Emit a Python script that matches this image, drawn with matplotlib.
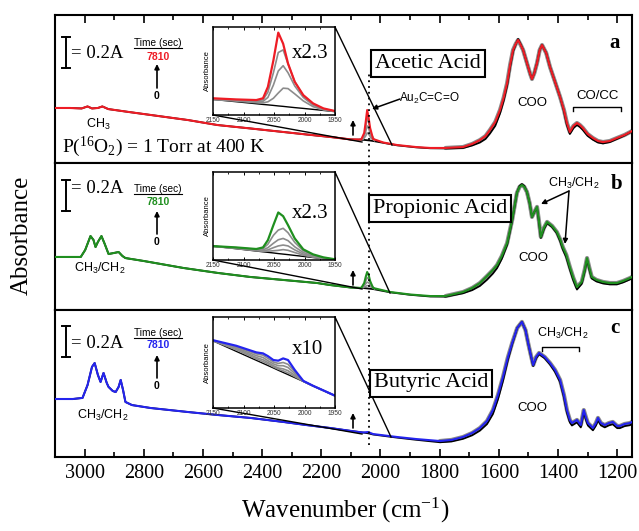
import numpy as np
import matplotlib
matplotlib.use('Agg')
import matplotlib.pyplot as plt
from matplotlib.lines import Line2D
from matplotlib.patches import FancyArrowPatch
from matplotlib.ticker import MultipleLocator

SERIF = 'Liberation Serif'
SANS = 'Liberation Sans'

# ---------------- data (absorbance) ----------------
w_a = [3100, 3050, 3010, 2990, 2975, 2955, 2940, 2920, 2850, 2777, 2650, 2551, 2440, 2328, 2250, 2170, 2100, 2065, 2055, 2050,
       2045, 2040, 2035, 2025, 1990, 1944, 1880, 1832, 1780, 1721, 1690, 1664, 1645, 1630, 1612, 1596, 1584, 1572, 1562, 1552,
       1543, 1535, 1526, 1518, 1510, 1501, 1494, 1488, 1480, 1471, 1462, 1454, 1440, 1427, 1410, 1393, 1380, 1370, 1360, 1348,
       1336, 1326, 1316, 1300, 1282, 1265, 1248, 1225, 1201, 1175, 1150]
acetic_final = [0.355, 0.355, 0.352, 0.365, 0.352, 0.355, 0.365, 0.348, 0.329, 0.310, 0.277, 0.245, 0.223, 0.200, 0.184, 0.168, 0.152, 0.152, 0.194, 0.265,
                0.342, 0.290, 0.226, 0.155, 0.132, 0.116, 0.103, 0.097, 0.097, 0.103, 0.123, 0.148, 0.174, 0.213, 0.265, 0.342, 0.419, 0.516, 0.632, 0.729,
                0.768, 0.794, 0.761, 0.729, 0.677, 0.619, 0.574, 0.542, 0.581, 0.645, 0.729, 0.761, 0.710, 0.619, 0.523, 0.426, 0.342, 0.258, 0.200, 0.239,
                0.258, 0.245, 0.226, 0.187, 0.161, 0.142, 0.135, 0.142, 0.161, 0.181, 0.206]
acetic_initial = [0.355, 0.355, 0.352, 0.365, 0.352, 0.355, 0.365, 0.348, 0.329, 0.310, 0.277, 0.245, 0.223, 0.200, 0.184, 0.168, 0.152, 0.150, 0.149, 0.148,
                  0.147, 0.146, 0.145, 0.142, 0.130, 0.114, 0.101, 0.095, 0.094, 0.097, 0.113, 0.132, 0.155, 0.190, 0.240, 0.320, 0.400, 0.500, 0.620, 0.720,
                  0.765, 0.800, 0.765, 0.729, 0.677, 0.619, 0.574, 0.542, 0.581, 0.645, 0.729, 0.761, 0.710, 0.619, 0.523, 0.426, 0.335, 0.245, 0.187, 0.225,
                  0.245, 0.232, 0.213, 0.175, 0.150, 0.132, 0.126, 0.135, 0.155, 0.178, 0.205]

w_b = [3100, 3040, 3013, 2998, 2980, 2970, 2963, 2955, 2943, 2932, 2919, 2900, 2885, 2872, 2862, 2800, 2666, 2550, 2440, 2330,
       2214, 2170, 2100, 2065, 2055, 2050, 2045, 2040, 2035, 2025, 1967, 1900, 1832, 1780, 1721, 1690, 1664, 1640, 1620, 1606,
       1590, 1572, 1555, 1539, 1530, 1522, 1514, 1505, 1496, 1488, 1480, 1471, 1465, 1458, 1448, 1437, 1420, 1404, 1392, 1384,
       1372, 1360, 1348, 1336, 1320, 1310, 1302, 1294, 1286, 1270, 1248, 1225, 1201, 1180, 1157, 1150]
propionic_final = [0.342, 0.342, 0.342, 0.387, 0.477, 0.452, 0.406, 0.439, 0.477, 0.426, 0.361, 0.368, 0.374, 0.348, 0.335, 0.316, 0.271, 0.239, 0.213, 0.194,
                   0.174, 0.161, 0.145, 0.142, 0.174, 0.213, 0.245, 0.226, 0.187, 0.142, 0.116, 0.100, 0.090, 0.090, 0.116, 0.142, 0.174, 0.219, 0.258, 0.290,
                   0.348, 0.432, 0.581, 0.755, 0.794, 0.806, 0.794, 0.761, 0.690, 0.600, 0.632, 0.665, 0.581, 0.471, 0.529, 0.568, 0.542, 0.503, 0.452, 0.406,
                   0.355, 0.277, 0.206, 0.148, 0.181, 0.258, 0.335, 0.271, 0.213, 0.194, 0.181, 0.174, 0.174, 0.187, 0.206, 0.213]
propionic_initial = [0.342, 0.342, 0.342, 0.387, 0.477, 0.452, 0.406, 0.439, 0.477, 0.426, 0.361, 0.368, 0.374, 0.348, 0.335, 0.316, 0.271, 0.239, 0.213, 0.194,
                     0.174, 0.161, 0.145, 0.142, 0.141, 0.140, 0.139, 0.138, 0.137, 0.135, 0.114, 0.098, 0.087, 0.086, 0.108, 0.128, 0.155, 0.195, 0.235, 0.270,
                     0.330, 0.420, 0.575, 0.755, 0.800, 0.812, 0.800, 0.761, 0.690, 0.600, 0.632, 0.660, 0.575, 0.465, 0.520, 0.560, 0.535, 0.495, 0.440, 0.392,
                     0.340, 0.262, 0.190, 0.132, 0.168, 0.248, 0.325, 0.260, 0.203, 0.184, 0.171, 0.165, 0.165, 0.178, 0.197, 0.205]

w_c = [3100, 3040, 3007, 2990, 2975, 2966, 2955, 2946, 2936, 2925, 2919, 2905, 2895, 2885, 2878, 2870, 2862, 2840, 2777, 2650,
       2551, 2440, 2328, 2250, 2170, 2100, 2060, 2042, 2025, 1944, 1880, 1799, 1760, 1721, 1690, 1664, 1640, 1620, 1603, 1586,
       1570, 1555, 1538, 1522, 1510, 1501, 1492, 1484, 1474, 1464, 1445, 1427, 1410, 1393, 1380, 1370, 1360, 1353, 1336, 1323,
       1313, 1305, 1299, 1282, 1272, 1265, 1255, 1242, 1228, 1215, 1200, 1191, 1175, 1157, 1150]
butyric_final = [0.387, 0.387, 0.394, 0.477, 0.594, 0.619, 0.542, 0.497, 0.555, 0.490, 0.465, 0.439, 0.432, 0.465, 0.510, 0.445, 0.368, 0.348, 0.329, 0.303,
                 0.284, 0.265, 0.239, 0.219, 0.200, 0.181, 0.171, 0.174, 0.161, 0.142, 0.129, 0.116, 0.123, 0.142, 0.168, 0.200, 0.245, 0.316, 0.413, 0.529,
                 0.652, 0.748, 0.845, 0.884, 0.832, 0.748, 0.671, 0.606, 0.658, 0.684, 0.658, 0.619, 0.574, 0.510, 0.413, 0.316, 0.252, 0.232, 0.252, 0.219,
                 0.316, 0.265, 0.232, 0.200, 0.232, 0.265, 0.232, 0.219, 0.232, 0.239, 0.213, 0.213, 0.226, 0.232, 0.239]
butyric_initial = [0.387, 0.387, 0.394, 0.477, 0.594, 0.619, 0.542, 0.497, 0.555, 0.490, 0.465, 0.439, 0.432, 0.465, 0.510, 0.445, 0.368, 0.348, 0.329, 0.303,
                   0.284, 0.265, 0.239, 0.219, 0.200, 0.181, 0.171, 0.166, 0.158, 0.138, 0.124, 0.108, 0.113, 0.130, 0.153, 0.183, 0.225, 0.290, 0.385, 0.505,
                   0.635, 0.740, 0.845, 0.884, 0.832, 0.748, 0.668, 0.600, 0.650, 0.676, 0.650, 0.610, 0.562, 0.496, 0.398, 0.300, 0.236, 0.216, 0.236, 0.204,
                   0.300, 0.250, 0.216, 0.185, 0.216, 0.250, 0.217, 0.204, 0.217, 0.224, 0.199, 0.199, 0.212, 0.218, 0.226]

# intermediate spectra around the ketenylidene band (main panels)
w_peak = [2070, 2058, 2050, 2045, 2040, 2032, 2020]
acetic_mid = [[0.152, 0.162, 0.230, 0.290, 0.262, 0.190, 0.148],
              [0.151, 0.157, 0.200, 0.240, 0.222, 0.170, 0.146],
              [0.151, 0.154, 0.174, 0.195, 0.186, 0.160, 0.144]]
propionic_mid = [[0.143, 0.150, 0.185, 0.210, 0.200, 0.165, 0.138],
                 [0.143, 0.147, 0.168, 0.180, 0.175, 0.155, 0.137],
                 [0.142, 0.144, 0.152, 0.158, 0.156, 0.148, 0.136]]

# insets (2150-1950 cm-1, relative absorbance)
w_inset = [2150, 2112, 2079, 2068, 2060, 2051, 2043, 2035, 2027, 2016, 2002, 1986, 1969, 1950]
inset_a_final = [0.190, 0.177, 0.170, 0.190, 0.320, 0.620, 0.936, 0.810, 0.585, 0.377, 0.226, 0.132, 0.075, 0.045]
inset_a_mid = [[0.179, 0.172, 0.163, 0.172, 0.260, 0.480, 0.710, 0.740, 0.580, 0.380, 0.220, 0.125, 0.070, 0.043],
               [0.178, 0.165, 0.152, 0.155, 0.200, 0.340, 0.500, 0.560, 0.480, 0.330, 0.200, 0.112, 0.063, 0.041],
               [0.177, 0.158, 0.140, 0.138, 0.150, 0.190, 0.250, 0.305, 0.300, 0.240, 0.160, 0.095, 0.058, 0.040]]
inset_a_initial = [0.177, 0.151, 0.128, 0.120, 0.115, 0.109, 0.103, 0.098, 0.092, 0.084, 0.075, 0.064, 0.052, 0.038]

inset_b_final = [0.158, 0.143, 0.125, 0.143, 0.226, 0.396, 0.540, 0.498, 0.396, 0.245, 0.121, 0.064, 0.030, 0.008]
inset_b_mid = [[0.157, 0.140, 0.120, 0.130, 0.180, 0.280, 0.340, 0.360, 0.310, 0.200, 0.105, 0.055, 0.025, 0.006],
               [0.156, 0.136, 0.114, 0.115, 0.140, 0.190, 0.230, 0.245, 0.220, 0.150, 0.085, 0.045, 0.020, 0.004],
               [0.155, 0.133, 0.109, 0.105, 0.115, 0.140, 0.160, 0.170, 0.160, 0.115, 0.068, 0.038, 0.018, 0.002],
               [0.155, 0.131, 0.106, 0.099, 0.100, 0.105, 0.110, 0.118, 0.110, 0.085, 0.055, 0.032, 0.016, 0.001]]
inset_b_initial = [0.158, 0.128, 0.102, 0.093, 0.087, 0.080, 0.073, 0.067, 0.061, 0.052, 0.041, 0.028, 0.015, 0.000]

inset_c_final = [0.745, 0.684, 0.611, 0.600, 0.570, 0.527, 0.520, 0.545, 0.527, 0.418, 0.298, 0.244, 0.193, 0.135]
inset_c_mid = [[0.743, 0.675, 0.595, 0.580, 0.545, 0.505, 0.490, 0.500, 0.480, 0.400, 0.296, 0.244, 0.193, 0.135],
               [0.741, 0.665, 0.575, 0.555, 0.520, 0.485, 0.465, 0.465, 0.445, 0.380, 0.295, 0.243, 0.193, 0.135],
               [0.740, 0.655, 0.555, 0.530, 0.500, 0.465, 0.440, 0.430, 0.410, 0.360, 0.294, 0.243, 0.192, 0.135],
               [0.739, 0.640, 0.540, 0.510, 0.485, 0.452, 0.427, 0.408, 0.385, 0.345, 0.293, 0.243, 0.192, 0.135]]
inset_c_initial = [0.738, 0.623, 0.524, 0.491, 0.467, 0.440, 0.415, 0.391, 0.367, 0.334, 0.292, 0.243, 0.192, 0.135]

x_major = [3000, 2800, 2600, 2400, 2200, 2000, 1800, 1600, 1400, 1200]
inset_ticks = [2150, 2100, 2050, 2000, 1950]

RED, GREEN, BLUE = '#ee1c25', '#1f8f1f', '#2424ee'
GREY, GREY_BAND = '#8c8c8c', '#8a8a8a'

# ---------------- figure ----------------
W, H = 639, 531
fig = plt.figure(figsize=(W / 100, H / 100), dpi=100)


def F(x, y):
    return (x / W, 1 - y / H)


def add_ax(x0, y0, x1, y1):
    return fig.add_axes([x0 / W, 1 - y1 / H, (x1 - x0) / W, (y1 - y0) / H])


def T(x, y, s, size, family=SANS, ha='center', va='center', **kw):
    return fig.text(x / W, 1 - y / H, s, fontsize=size, family=family, ha=ha, va=va, **kw)


def L(pts, lw=1.0, color='k'):
    xs = [p[0] / W for p in pts]
    ys = [1 - p[1] / H for p in pts]
    fig.add_artist(Line2D(xs, ys, transform=fig.transFigure, lw=lw, color=color))


def ARROW(p0, p1, lw=1.2, ms=7):
    fig.add_artist(FancyArrowPatch(F(*p0), F(*p1), transform=fig.transFigure,
                                   arrowstyle='-|>', mutation_scale=ms, lw=lw, color='k',
                                   shrinkA=0, shrinkB=0))


panels = [
    dict(box=(55, 15, 632, 163), ylim=(0.0, 0.955), w=w_a, fin=acetic_final, ini=acetic_initial,
         mid=acetic_mid, color=RED, dot=(0.0, 0.587), bar=(0.61, 0.81)),
    dict(box=(55, 163, 632, 310), ylim=(0.0, 0.948), w=w_b, fin=propionic_final, ini=propionic_initial,
         mid=propionic_mid, color=GREEN, dot=(0.0, 0.948), bar=(0.64, 0.84)),
    dict(box=(55, 310, 632, 457), ylim=(0.013, 0.961), w=w_c, fin=butyric_final, ini=butyric_initial,
         mid=None, color=BLUE, dot=(0.09, 0.961), bar=(0.655, 0.855)),
]

axes = []
for i, p in enumerate(panels):
    ax = add_ax(*p['box'])
    axes.append(ax)
    w = np.array(p['w'])
    fin = np.array(p['fin'])
    ini = np.array(p['ini'])
    band = w < 1800
    ax.plot(w[band], fin[band], color=GREY_BAND, lw=3.0, zorder=1, solid_capstyle='round')
    ax.plot(w, ini, color='k', lw=1.3, zorder=2)
    if p['mid'] is not None:
        for m in p['mid']:
            ax.plot(w_peak, m, color=GREY, lw=1.1, zorder=2.5)
    ax.plot(w, fin, color=p['color'], lw=1.5, zorder=3)
    ax.plot([2040, 2040], p['dot'], color='k', lw=1.3, ls=(0, (1, 2.2)), zorder=4)
    # scale bar 0.2 A
    b0, b1 = p['bar']
    ax.plot([3064, 3064], [b0, b1], color='k', lw=1.4)
    ax.plot([3078, 3050], [b0, b0], color='k', lw=1.4)
    ax.plot([3078, 3050], [b1, b1], color='k', lw=1.4)
    ax.set_xlim(3100, 1150)
    ax.set_ylim(*p['ylim'])
    ax.set_yticks([])
    ax.xaxis.set_major_locator(plt.FixedLocator(x_major))
    ax.xaxis.set_minor_locator(MultipleLocator(100))
    for s in ax.spines.values():
        s.set_linewidth(1.5)
    if i == 0:
        ax.tick_params(axis='x', which='both', direction='in', top=True, bottom=False,
                       labeltop=False, labelbottom=False)
    elif i == 1:
        ax.tick_params(axis='x', which='both', bottom=False, top=False, labelbottom=False)
    else:
        ax.tick_params(axis='x', which='both', direction='in', bottom=True, top=False,
                       labelbottom=True, pad=5)
    ax.tick_params(axis='x', which='major', length=6, width=1.2)
    ax.tick_params(axis='x', which='minor', length=3.5, width=1.2)

for lab in axes[2].get_xticklabels():
    lab.set_family(SERIF)
    lab.set_fontsize(14.5)

# ---------------- insets ----------------
insets = [
    dict(box=(213, 27, 335, 115), fin=inset_a_final, mid=inset_a_mid, ini=inset_a_initial, color=RED),
    dict(box=(213, 172, 335, 260), fin=inset_b_final, mid=inset_b_mid, ini=inset_b_initial, color=GREEN),
    dict(box=(213, 317, 335, 408), fin=inset_c_final, mid=inset_c_mid, ini=inset_c_initial, color=BLUE),
]
for q in insets:
    ia = add_ax(*q['box'])
    ia.plot(w_inset, q['ini'], color='k', lw=1.0)
    for m in q['mid']:
        ia.plot(w_inset, m, color=GREY, lw=1.2)
    ia.plot(w_inset, q['fin'], color=q['color'], lw=1.6)
    ia.set_xlim(2150, 1950)
    ia.set_ylim(0, 1)
    ia.set_yticks([])
    ia.set_xticks(inset_ticks)
    ia.xaxis.set_minor_locator(MultipleLocator(25))
    ia.tick_params(axis='x', which='both', direction='in', top=True, bottom=True,
                   labelsize=4.8, pad=1.5, labelcolor='#333333')
    ia.tick_params(axis='x', which='major', length=2.5, width=0.7)
    ia.tick_params(axis='x', which='minor', length=1.5, width=0.6)
    for lab in ia.get_xticklabels():
        lab.set_family(SANS)
    ia.set_ylabel('Absorbance', fontsize=5.5, family=SANS, labelpad=1.5)
    for s in ia.spines.values():
        s.set_linewidth(1.1)

# zoom connector lines
L([(335, 27), (392, 145)]); L([(213, 115), (362, 142)])
L([(335, 172), (390, 293)]); L([(213, 260), (362, 289)])
L([(335, 317), (391, 437)]); L([(213, 408), (362, 434)])

# ---------------- annotations ----------------
bar_y = [53, 189, 343]
time_y = [43, 189, 333]
num_y = [57, 202, 345]
arr = [(88, 64), (234, 211), (378, 355)]
zero_y = [96, 242, 386]
cols = [RED, GREEN, BLUE]
for k in range(3):
    T(71, bar_y[k], '= 0.2A', 13.5, family=SERIF, ha='left')
    T(158, time_y[k], 'Time (sec)', 7.3)
    L([(134, time_y[k] + 5), (182, time_y[k] + 5)], lw=0.8)
    T(158, num_y[k], '7810', 7.5, color=cols[k], fontweight='bold')
    ARROW((157, arr[k][0]), (157, arr[k][1]), lw=1.2, ms=7)
    T(157, zero_y[k], '0', 7.5, fontweight='bold')

sm_arrows = [(135, 120), (285, 270), (428, 413)]
for y0, y1 in sm_arrows:
    ARROW((353, y0), (353, y1), lw=1.2, ms=7)

box_kw = dict(boxstyle='square,pad=0.18', fc='white', ec='black', lw=1.5)

# panel a
T(98, 124, r'CH$\mathregular{_3}$', 9)
T(62, 147, r'P($\mathregular{^{16}}$O$\mathregular{_2}$) = 1 Torr at 400 K', 14, family=SERIF, ha='left')
T(310, 54, 'x2.3', 15, family=SERIF)
T(428, 63, 'Acetic Acid', 16, family=SERIF, bbox=box_kw, zorder=5)
T(399, 98, r'Au$\mathregular{_2}$C=C=O', 8.5, ha='left')
ARROW((400, 99), (372, 109), lw=1.1, ms=7)
T(532, 103, 'COO', 9.5)
T(598, 96, 'CO/CC', 9.5)
L([(573, 111), (573, 107), (621, 107), (621, 111)], lw=1.0)
T(615, 43, 'a', 15, family=SERIF, fontweight='bold')

# panel b
T(100, 268, r'CH$\mathregular{_3}$/CH$\mathregular{_2}$', 9)
T(310, 214, 'x2.3', 15, family=SERIF)
T(440, 208, 'Propionic Acid', 16, family=SERIF, bbox=box_kw, zorder=5)
T(574, 183, r'CH$\mathregular{_3}$/CH$\mathregular{_2}$', 9)
ARROW((569, 191), (541, 204), lw=1.1, ms=7)
ARROW((569, 191), (565, 244), lw=1.1, ms=7)
T(533, 258, 'COO', 9.5)
T(617, 184, 'b', 15, family=SERIF, fontweight='bold')

# panel c
T(103, 415, r'CH$\mathregular{_3}$/CH$\mathregular{_2}$', 9)
T(307, 349, 'x10', 15, family=SERIF)
T(431, 383, 'Butyric Acid', 16, family=SERIF, bbox=box_kw, zorder=5)
T(563, 333, r'CH$\mathregular{_3}$/CH$\mathregular{_2}$', 9)
L([(542, 351), (542, 347), (579, 347), (579, 351)], lw=1.0)
T(532, 408, 'COO', 9.5)
T(615, 328, 'c', 15, family=SERIF, fontweight='bold')

# axis labels
T(345, 510, r'Wavenumber (cm$\mathregular{^{-1}}$)', 18, family=SERIF)
T(22, 235, 'Absorbance', 18, family=SERIF, rotation=90)

fig.savefig('out.png', dpi=100)
